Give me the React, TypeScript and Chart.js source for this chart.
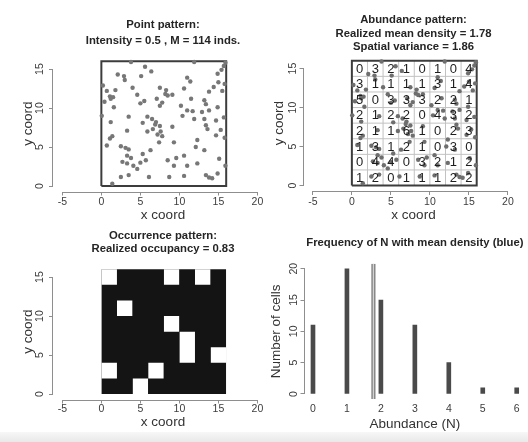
import React, { useEffect, useRef } from 'react';
import { Chart, registerables } from 'chart.js';

Chart.register(...registerables);

const W = 528;
const H = 442;
const FONT = "'Liberation Sans', Arial, Helvetica, sans-serif";
Chart.defaults.font.family = FONT;

// ---------------- data ----------------
// Point pattern: coordinates of the 114 simulated individuals
const pointX = [
  3.8, 2.1, 2.9, 5.6, 5.1, 6.4, 11.9, 14.9, 15.4, 15.7, 15.9,
  0.2, 0.7, 1.8, 3.0, 4.0, 7.5, 8.3, 11.0, 11.4, 10.6, 13.8, 14.4, 15.5, 15.0, 15.8,
  1.1, 1.5, 1.2, 1.6, 0.4, 4.6, 5.0, 5.5, 7.1, 7.5, 7.8, 8.2, 8.5, 9.1, 11.5, 10.2, 13.2, 13.4, 14.9,
  0.05, 1.2, 3.5, 5.9, 5.3, 6.5, 7.0, 11.0, 11.7, 11.9, 10.4, 12.9, 13.8, 13.2, 14.7, 15.7,
  1.4, 1.1, 3.3, 5.9, 6.9, 7.5, 7.6, 7.8, 6.6, 7.2, 9.1, 13.4, 13.6, 14.7, 15.3, 15.8,
  0.7, 2.5, 3.1, 3.5, 5.3, 7.4, 6.3, 9.3, 12.3, 12.1, 13.2,
  3.3, 3.8, 2.7, 3.3, 4.1, 5.7, 4.6, 5.0, 8.5, 9.3, 9.6, 10.6, 11.0, 12.3, 15.1, 15.9,
  1.4, 2.5, 3.5, 6.1, 8.7, 10.6, 13.4, 13.8, 14.2, 14.9,
];
const pointY = [
  15.9, 14.3, 14.1, 15.3, 14.1, 14.7, 15.9, 14.4, 14.9, 15.4, 15.8,
  12.9, 12.2, 12.3, 13.6, 12.6, 12.6, 12.3, 13.9, 13.4, 12.5, 12.1, 12.7, 12.2, 13.3, 13.1,
  11.5, 11.4, 11.2, 10.1, 10.8, 11.7, 10.6, 10.9, 11.2, 10.3, 10.7, 11.8, 11.6, 11.7, 11.2, 10.3, 11.0, 10.5, 10.1,
  9.0, 8.2, 8.9, 8.9, 8.1, 8.6, 8.2, 9.7, 9.6, 8.6, 9.0, 9.5, 9.7, 8.6, 8.4, 8.8,
  6.4, 6.1, 7.1, 7.0, 7.9, 7.7, 7.0, 6.4, 7.3, 6.6, 7.6, 7.8, 7.3, 6.5, 7.2, 6.2,
  5.2, 5.1, 4.9, 4.7, 4.1, 5.6, 4.6, 5.6, 5.9, 5.0, 4.6,
  3.9, 3.6, 3.1, 2.9, 2.6, 3.3, 2.2, 3.0, 3.3, 2.6, 3.6, 3.9, 2.6, 2.9, 3.5, 2.6,
  0.3, 1.15, 1.4, 1.15, 1.15, 1.3, 1.4, 1.1, 1.0, 1.6,
];

// Abundance per 2x2 cell, rows listed from top (y 14-16) to bottom (y 0-2)
const abundanceGrid = [
  [0, 3, 2, 1, 0, 1, 0, 4],
  [3, 1, 1, 1, 1, 3, 1, 4],
  [5, 0, 3, 3, 3, 2, 2, 1],
  [2, 1, 2, 2, 0, 4, 3, 2],
  [2, 1, 1, 6, 1, 0, 2, 3],
  [1, 3, 1, 2, 1, 0, 3, 0],
  [0, 4, 4, 0, 3, 2, 1, 2],
  [1, 2, 0, 1, 1, 1, 2, 2],
];
const cellSize = 2;
const regionSize = 16;

// Frequency of N
const abundanceLevels = [0, 1, 2, 3, 4, 5, 6];
const cellCounts = [11, 20, 15, 11, 5, 1, 1];
const meanDensity = 1.78;

// Tick labels
const coordXTicks = [-5, 0, 5, 10, 15, 20];
const coordYTicks = [0, 5, 10, 15];
const abundanceTicks = [0, 1, 2, 3, 4, 5, 6];
const cellCountTicks = [0, 5, 10, 15, 20];

const pointTitle = ['Point pattern:', 'Intensity = 0.5 , M = 114 inds.'];
const abundanceTitle = ['Abundance pattern:', 'Realized mean density = 1.78', 'Spatial variance = 1.86'];
const occurrenceTitle = ['Occurrence pattern:', 'Realized occupancy = 0.83'];
const histTitle = ['Frequency of N with mean density (blue)'];

// ---------------- styling / layout ----------------
const TICK_FONT = 10.5;
const LAB_FONT = 13.5;
const MAIN_FONT = 11.3;
const TL = 4;
const AXIS_COLOR = '#8e8e8e';
const TICK_TEXT = '#3c3c3c';
const LAB_TEXT = '#333333';
const MAIN_TEXT = '#252525';

type Geom = {
  left: number; right: number; top: number; bottom: number;
  xMin: number; xMax: number; yMin: number; yMax: number;
  yTickX: number; yTitleX: number; xTickY: number; xTitleY: number;
  titleY: number; titleLH: number;
};

const G1: Geom = { left: 53, right: 273, top: 55.8, bottom: 191.5, xMin: -6.2, xMax: 22, yMin: -0.7, yMax: 16.7,
  yTickX: 40, yTitleX: 28, xTickY: 202, xTitleY: 215, titleY: 25, titleLH: 16 };
const G2: Geom = { left: 303.5, right: 523.5, top: 55.3, bottom: 191, xMin: -6.2, xMax: 22, yMin: -0.7, yMax: 16.7,
  yTickX: 293.3, yTitleX: 279, xTickY: 202, xTitleY: 215, titleY: 20, titleLH: 13.5 };
const G3: Geom = { left: 53, right: 273, top: 263.8, bottom: 399.5, xMin: -6.2, xMax: 22, yMin: -0.7, yMax: 16.7,
  yTickX: 40, yTitleX: 28, xTickY: 409.3, xTitleY: 422.7, titleY: 236, titleLH: 13.3 };
const G4: Geom = { left: 304.5, right: 525.2, top: 263.7, bottom: 399, xMin: -0.25, xMax: 6.25, yMin: -0.8, yMax: 20.8,
  yTickX: 294, yTitleX: 276, xTickY: 409, xTitleY: 424, titleY: 243, titleLH: 13 };

// R-style axis line: spans from first to last tick only
const rAxesPlugin = {
  id: 'rAxes',
  afterDraw(chart: any, _args: any, opts: any) {
    const { ctx, chartArea } = chart;
    ctx.save();
    ctx.strokeStyle = opts.color || AXIS_COLOR;
    ctx.lineWidth = 1;
    if (opts.x) {
      const s = chart.scales.x;
      const t = s.ticks;
      const y = Math.round(chartArea.bottom) + 0.5;
      ctx.beginPath();
      ctx.moveTo(s.getPixelForValue(t[0].value), y);
      ctx.lineTo(s.getPixelForValue(t[t.length - 1].value), y);
      ctx.stroke();
    }
    if (opts.y) {
      const s = chart.scales.y;
      const t = s.ticks;
      const x = Math.round(chartArea.left) - 0.5;
      ctx.beginPath();
      ctx.moveTo(x, s.getPixelForValue(t[0].value));
      ctx.lineTo(x, s.getPixelForValue(t[t.length - 1].value));
      ctx.stroke();
    }
    ctx.restore();
  },
};

// Abundance numbers written at cell centres
const cellTextPlugin = {
  id: 'cellText',
  afterDatasetsDraw(chart: any) {
    const { ctx } = chart;
    const sx = chart.scales.x;
    const sy = chart.scales.y;
    const rows = abundanceGrid.length;
    ctx.save();
    ctx.font = `13px ${FONT}`;
    ctx.fillStyle = '#1e1e1e';
    ctx.textAlign = 'center';
    ctx.textBaseline = 'middle';
    abundanceGrid.forEach((row, r) => {
      row.forEach((n, c) => {
        const cx = (c + 0.5) * cellSize;
        const cy = (rows - r - 0.5) * cellSize;
        ctx.fillText(String(n), sx.getPixelForValue(cx), sy.getPixelForValue(cy) + 0.5);
      });
    });
    ctx.restore();
  },
};

type Spec = {
  title: string[]; xLabel: string; yLabel: string;
  xTicks: number[]; yTicks: number[]; xAxisLine: boolean;
};

function buildOptions(g: Geom, spec: Spec): any {
  const tickLH = TICK_FONT * 1.2;
  const yWidest = Math.max(...spec.yTicks.map((v) => String(v).length)) * 0.556 * TICK_FONT;
  const yScaleLeft = g.yTitleX - LAB_FONT / 2;
  const yWidth = g.left - yScaleLeft;
  const yPad = g.left - TL - yWidest / 2 - g.yTickX;
  const xTl = spec.xAxisLine ? TL : 0;
  const xPad = g.xTickY - g.bottom - xTl - tickLH / 2;
  const xScaleBottom = g.xTitleY + LAB_FONT / 2;
  const xHeight = xScaleBottom - g.bottom;
  const titleTop = g.titleY - g.titleLH / 2;
  const titlePadBottom = g.top - titleTop - spec.title.length * g.titleLH;
  return {
    responsive: false,
    animation: false,
    events: [],
    layout: { padding: { left: yScaleLeft, right: W - g.right, top: titleTop, bottom: H - xScaleBottom } },
    plugins: {
      legend: { display: false },
      tooltip: { enabled: false },
      title: {
        display: true,
        text: spec.title,
        fullSize: false,
        color: MAIN_TEXT,
        font: { family: FONT, size: MAIN_FONT, weight: 'bold', lineHeight: `${g.titleLH}px` },
        padding: { top: 0, bottom: titlePadBottom },
      },
      rAxes: { x: spec.xAxisLine, y: true, color: AXIS_COLOR },
    },
    scales: {
      x: {
        type: 'linear',
        position: 'bottom',
        min: g.xMin,
        max: g.xMax,
        offset: false,
        afterBuildTicks: (s: any) => { s.ticks = spec.xTicks.map((v) => ({ value: v })); },
        afterFit: (s: any) => { s.height = xHeight; },
        grid: { display: spec.xAxisLine, drawOnChartArea: false, drawTicks: spec.xAxisLine, tickLength: xTl, color: AXIS_COLOR, offset: false },
        border: { display: false },
        ticks: { color: TICK_TEXT, font: { family: FONT, size: TICK_FONT }, padding: xPad, minRotation: 0, maxRotation: 0, autoSkip: false },
        title: { display: true, text: spec.xLabel, color: LAB_TEXT, font: { family: FONT, size: LAB_FONT, lineHeight: 1 }, padding: 0 },
      },
      y: {
        type: 'linear',
        position: 'left',
        min: g.yMin,
        max: g.yMax,
        afterBuildTicks: (s: any) => { s.ticks = spec.yTicks.map((v) => ({ value: v })); },
        afterFit: (s: any) => { s.width = yWidth; },
        grid: { display: true, drawOnChartArea: false, drawTicks: true, tickLength: TL, color: AXIS_COLOR },
        border: { display: false },
        ticks: { color: TICK_TEXT, font: { family: FONT, size: TICK_FONT }, padding: yPad, minRotation: 90, maxRotation: 90, crossAlign: 'center', autoSkip: false },
        title: { display: true, text: spec.yLabel, color: LAB_TEXT, font: { family: FONT, size: LAB_FONT, lineHeight: 1 }, padding: 0 },
      },
    },
  };
}

const pointData = () => pointX.map((x, i) => ({ x, y: pointY[i] }));

const boxPath = () => [
  { x: 0, y: 0 }, { x: regionSize, y: 0 }, { x: regionSize, y: regionSize }, { x: 0, y: regionSize }, { x: 0, y: 0 },
];

function lineDs(data: any[], color: string, width: number): any {
  return { type: 'line', data, borderColor: color, borderWidth: width, pointRadius: 0, fill: false, showLine: true, tension: 0 };
}

function panel1(): any {
  return {
    type: 'scatter',
    data: {
      datasets: [
        { type: 'scatter', data: pointData(), pointRadius: 2.2, backgroundColor: '#777777', borderWidth: 0 },
        lineDs(boxPath(), '#3c3c3c', 2),
      ],
    },
    options: buildOptions(G1, { title: pointTitle, xLabel: 'x coord', yLabel: 'y coord', xTicks: coordXTicks, yTicks: coordYTicks, xAxisLine: true }),
    plugins: [rAxesPlugin],
  };
}

function panel2(): any {
  const gridLines: any[] = [];
  for (let v = cellSize; v < regionSize; v += cellSize) {
    gridLines.push(lineDs([{ x: v, y: 0 }, { x: v, y: regionSize }], '#c2c2c2', 1));
    gridLines.push(lineDs([{ x: 0, y: v }, { x: regionSize, y: v }], '#c2c2c2', 1));
  }
  return {
    type: 'scatter',
    data: {
      datasets: [
        { type: 'scatter', data: pointData(), pointRadius: 2.2, backgroundColor: '#6e6e6e', borderWidth: 0 },
        lineDs(boxPath(), '#3c3c3c', 2),
        ...gridLines,
      ],
    },
    options: buildOptions(G2, { title: abundanceTitle, xLabel: 'x coord', yLabel: 'y coord', xTicks: coordXTicks, yTicks: coordYTicks, xAxisLine: true }),
    plugins: [rAxesPlugin, cellTextPlugin],
  };
}

function panel3(): any {
  const rows = abundanceGrid.length;
  const cols = abundanceGrid[0].length;
  const whiteCells: any[] = [];
  // unoccupied cells (N = 0), vertically adjacent ones merged into one run
  for (let c = 0; c < cols; c++) {
    let r = rows - 1;
    while (r >= 0) {
      if (abundanceGrid[r][c] === 0) {
        const yStart = (rows - 1 - r) * cellSize;
        let end = r;
        while (end - 1 >= 0 && abundanceGrid[end - 1][c] === 0) end--;
        const yEnd = (rows - end) * cellSize;
        const x0 = c * cellSize;
        whiteCells.push({
          type: 'line', data: [{ x: x0, y: yStart }, { x: x0 + cellSize, y: yStart }],
          fill: { value: yEnd }, backgroundColor: '#ffffff', borderWidth: 0, pointRadius: 0, showLine: true,
        });
        r = end - 1;
      } else {
        r--;
      }
    }
  }
  const blackBox = {
    type: 'line', data: [{ x: 0, y: 0 }, { x: regionSize, y: 0 }],
    fill: { value: regionSize }, backgroundColor: '#141414', borderWidth: 0, pointRadius: 0, showLine: true,
  };
  return {
    type: 'scatter',
    data: { datasets: [...whiteCells, blackBox] },
    options: buildOptions(G3, { title: occurrenceTitle, xLabel: 'x coord', yLabel: 'y coord', xTicks: coordXTicks, yTicks: coordYTicks, xAxisLine: true }),
    plugins: [rAxesPlugin],
  };
}

function panel4(): any {
  return {
    type: 'bar',
    data: {
      datasets: [
        { type: 'bar', data: abundanceLevels.map((n, i) => ({ x: n, y: cellCounts[i] })), backgroundColor: '#4a4a4a', borderWidth: 0, barThickness: 4 },
        lineDs([{ x: meanDensity, y: G4.yMin }, { x: meanDensity, y: G4.yMax }], '#d2d2d2', 1.6),
        lineDs([{ x: meanDensity, y: G4.yMin }, { x: meanDensity, y: G4.yMax }], '#737373', 4),
      ],
    },
    options: buildOptions(G4, { title: histTitle, xLabel: 'Abundance (N)', yLabel: 'Number of cells', xTicks: abundanceTicks, yTicks: cellCountTicks, xAxisLine: false }),
    plugins: [rAxesPlugin],
  };
}

export default function App() {
  const r1 = useRef<HTMLCanvasElement>(null);
  const r2 = useRef<HTMLCanvasElement>(null);
  const r3 = useRef<HTMLCanvasElement>(null);
  const r4 = useRef<HTMLCanvasElement>(null);

  useEffect(() => {
    const builders = [panel1, panel2, panel3, panel4];
    const refs = [r1, r2, r3, r4];
    const charts: Chart[] = [];
    refs.forEach((ref, i) => {
      if (ref.current) charts.push(new Chart(ref.current, builders[i]()));
    });
    return () => charts.forEach((c) => c.destroy());
  }, []);

  const canvasStyle: React.CSSProperties = { position: 'absolute', left: 0, top: 0 };
  return (
    <div style={{ position: 'absolute', left: 0, top: 0, width: W, height: H, overflow: 'hidden', background: '#ffffff' }}>
      <div style={{ position: 'absolute', left: 0, top: 432, width: W, height: 10, background: 'linear-gradient(#f7f7f7, #e8e8e8)' }} />
      <canvas ref={r1} width={W} height={H} style={canvasStyle} />
      <canvas ref={r2} width={W} height={H} style={canvasStyle} />
      <canvas ref={r3} width={W} height={H} style={canvasStyle} />
      <canvas ref={r4} width={W} height={H} style={canvasStyle} />
    </div>
  );
}
